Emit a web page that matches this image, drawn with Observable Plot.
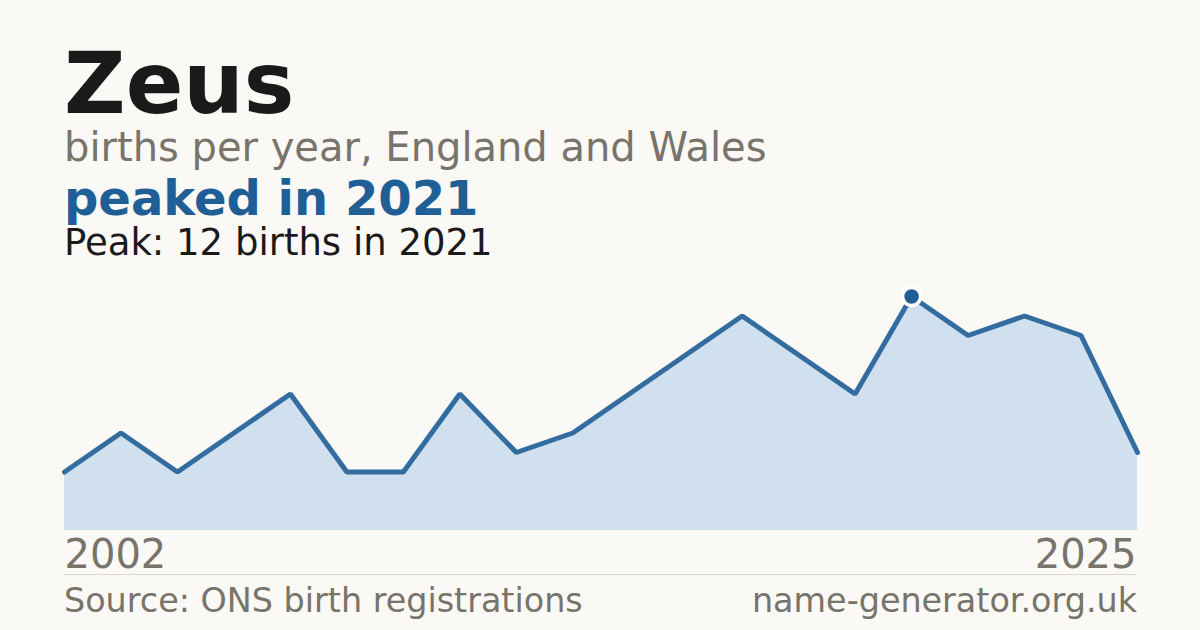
<!DOCTYPE html>
<html>
<head>
<meta charset="utf-8">
<script src="https://cdn.jsdelivr.net/npm/d3@7"></script>
<script src="https://cdn.jsdelivr.net/npm/@observablehq/plot@0.6"></script>
<style>
  html, body { margin: 0; padding: 0; background: #faf9f5; }
  body { width: 1200px; height: 630px; position: relative; overflow: hidden; font-family: "DejaVu Sans", sans-serif; }
  .t { position: absolute; left: 64px; white-space: nowrap; line-height: 1; }
  #title { top: 41px; font-size: 85px; font-weight: bold; color: #1a1a1a; }
  #sub { top: 127px; font-size: 40px; color: #78736b; }
  #headline { top: 174px; font-size: 48px; font-weight: bold; color: #1f5f96; }
  #peak { top: 224px; font-size: 37px; color: #1a1a1a; }
  #chart { position: absolute; left: 0; top: 270px; }
  #rule { position: absolute; left: 64px; width: 1073px; top: 574px; height: 1px; background: #dcd9d2; }
  #source { top: 584px; font-size: 33.4px; color: #78736b; }
  #site { position: absolute; right: 63px; top: 584px; font-size: 33.4px; color: #78736b; white-space: nowrap; line-height: 1; }
</style>
</head>
<body>
<div class="t" id="title">Zeus</div>
<div class="t" id="sub">births per year, England and Wales</div>
<div class="t" id="headline">peaked in 2021</div>
<div class="t" id="peak">Peak: 12 births in 2021</div>
<div id="chart"></div>
<div id="rule"></div>
<div class="t" id="source">Source: ONS birth registrations</div>
<div id="site">name-generator.org.uk</div>
<script>
const years = [2002, 2003, 2004, 2005, 2006, 2008, 2009, 2010, 2011, 2012, 2014, 2015, 2016, 2017, 2019, 2021, 2022, 2023, 2024, 2025];
const births = [3, 5, 3, 5, 7, 3, 3, 7, 4, 5, 7, 9, 11, 9, 7, 12, 10, 11, 10, 4];
const peakYear = 2021;
const tickYears = [2002, 2025];

const data = years.map((y, i) => ({year: y, births: births[i]}));
const peak = data.filter(d => d.year === peakYear);

const chart = Plot.plot({
  width: 1200,
  height: 310,
  marginTop: 0, marginBottom: 50, marginLeft: 64, marginRight: 63,
  style: {background: "transparent", fontFamily: "DejaVu Sans, sans-serif", overflow: "visible"},
  x: {type: "point", domain: years, range: [64, 1137], padding: 0, round: false, axis: null},
  y: {domain: [0, 12], range: [260, 26], axis: null},
  marks: [
    Plot.areaY(data, {x: "year", y: "births", fill: "#d0e0ef"}),
    Plot.lineY(data, {x: "year", y: "births", stroke: "#336c9f", strokeWidth: 5, strokeLinejoin: "miter"}),
    Plot.dot(peak, {x: "year", y: "births", r: 9, fill: "#1f5f96", stroke: "#ffffff", strokeWidth: 3.5}),
    Plot.text([tickYears[0]], {x: d => d, frameAnchor: "bottom", dy: 37, text: d => String(d), textAnchor: "start", fontSize: 40, fill: "#78736b", lineAnchor: "bottom"}),
    Plot.text([tickYears[1]], {x: d => d, frameAnchor: "bottom", dy: 37, dx: -1, text: d => String(d), textAnchor: "end", fontSize: 40, fill: "#78736b", lineAnchor: "bottom"})
  ]
});
document.getElementById("chart").appendChild(chart);
</script>
</body>
</html>
